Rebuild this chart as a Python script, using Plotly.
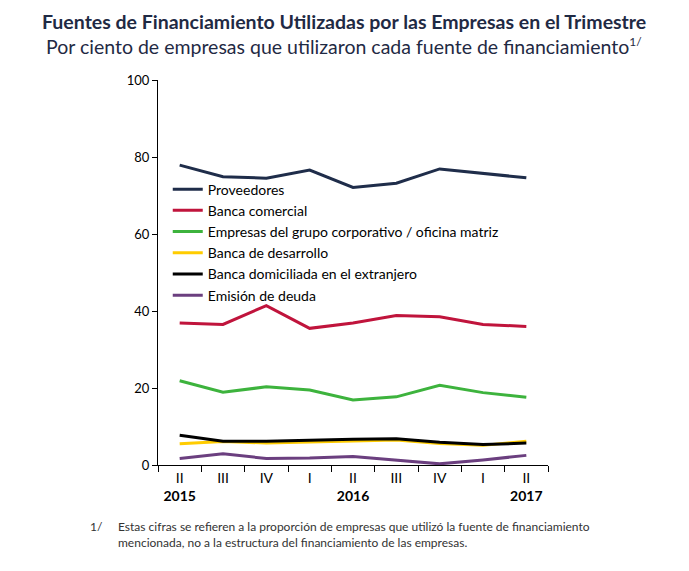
import plotly.graph_objects as go

# quarters, Q2 2015 .. Q2 2017
periods = ["2015-II", "2015-III", "2015-IV", "2016-I", "2016-II",
           "2016-III", "2016-IV", "2017-I", "2017-II"]
tick_labels = ["II<br><b>2015</b>", "III", "IV", "I", "II<br><b>2016</b>",
               "III", "IV", "I", "II<br><b>2017</b>"]

proveedores = [77.9, 74.9, 74.5, 76.6, 72.1, 73.2, 76.9, 75.8, 74.6]
banca_comercial = [36.9, 36.5, 41.4, 35.5, 36.9, 38.8, 38.5, 36.5, 36.0]
grupo_corporativo = [21.9, 18.9, 20.3, 19.5, 16.9, 17.7, 20.7, 18.8, 17.6]
banca_desarrollo = [5.5, 6.1, 5.7, 6.0, 6.3, 6.5, 5.6, 5.1, 6.2]
banca_extranjero = [7.7, 6.2, 6.2, 6.5, 6.7, 6.8, 5.9, 5.3, 5.7]
emision_deuda = [1.7, 2.9, 1.7, 1.8, 2.2, 1.2, 0.3, 1.3, 2.5]

series = [
    ("Proveedores", proveedores, "#1f2d4a"),
    ("Banca comercial", banca_comercial, "#c0143c"),
    ("Empresas del grupo corporativo / oficina matriz", grupo_corporativo, "#3db33d"),
    ("Banca de desarrollo", banca_desarrollo, "#ffcc00"),
    ("Banca domiciliada en el extranjero", banca_extranjero, "#000000"),
    ("Emisión de deuda", emision_deuda, "#6b3f7f"),
]

FONT = "Lato, Open Sans, sans-serif"

fig = go.Figure()
for name, vals, color in series:
    fig.add_trace(go.Scatter(
        x=periods, y=vals, name=name, mode="lines",
        line=dict(color=color, width=3),
    ))

# page body has an 8px margin, so the figure is a bit smaller than the window
fig.update_layout(
    width=681, height=563,
    margin=dict(l=150, r=141, t=72, b=106),
    plot_bgcolor="white", paper_bgcolor="white",
    font=dict(family=FONT, size=13, color="black"),
    showlegend=True,
    legend=dict(x=0.025, y=0.757, xanchor="left", yanchor="top",
                bgcolor="rgba(0,0,0,0)", font=dict(size=14),
                itemwidth=30, tracegroupgap=0),
    xaxis=dict(
        type="category", categoryorder="array", categoryarray=periods,
        range=[-0.5, 8.5],
        tickvals=periods, ticktext=tick_labels, tickson="boundaries",
        ticks="outside", ticklen=6, tickcolor="black",
        showline=True, linecolor="black", linewidth=1,
        showgrid=False, tickfont=dict(size=14),
    ),
    yaxis=dict(
        range=[0, 100], dtick=20, ticks="outside", ticklen=5,
        tickcolor="black", showline=True, linecolor="black", linewidth=1,
        showgrid=False, zeroline=False, tickfont=dict(size=13),
    ),
)

fig.add_annotation(
    text="<b>Fuentes de Financiamiento Utilizadas por las Empresas en el Trimestre</b>",
    xref="paper", yref="paper", x=0.477, y=1.152, yanchor="middle",
    showarrow=False, font=dict(size=19.5, color="#1f2a44"),
)
fig.add_annotation(
    text="Por ciento de empresas que utilizaron cada fuente de financiamiento"
         "<sup><span style='font-size:12px'>1/</span></sup>",
    xref="paper", yref="paper", x=0.477, y=1.088, yanchor="middle",
    showarrow=False, font=dict(size=19.5, color="#1f2a44"),
)
fig.add_annotation(
    text="1/", xref="paper", yref="paper", x=-0.179, y=-0.135,
    xanchor="left", yanchor="top", showarrow=False,
    font=dict(size=12, color="#333333"),
)
fig.add_annotation(
    text="Estas cifras se refieren a la proporción de empresas que utilizó la fuente de financiamiento"
         "<br>mencionada, no a la estructura del financiamiento de las empresas.",
    xref="paper", yref="paper", x=-0.108, y=-0.135, align="left",
    xanchor="left", yanchor="top", showarrow=False,
    font=dict(size=12, color="#333333"),
)

fig.write_html("out.html")
